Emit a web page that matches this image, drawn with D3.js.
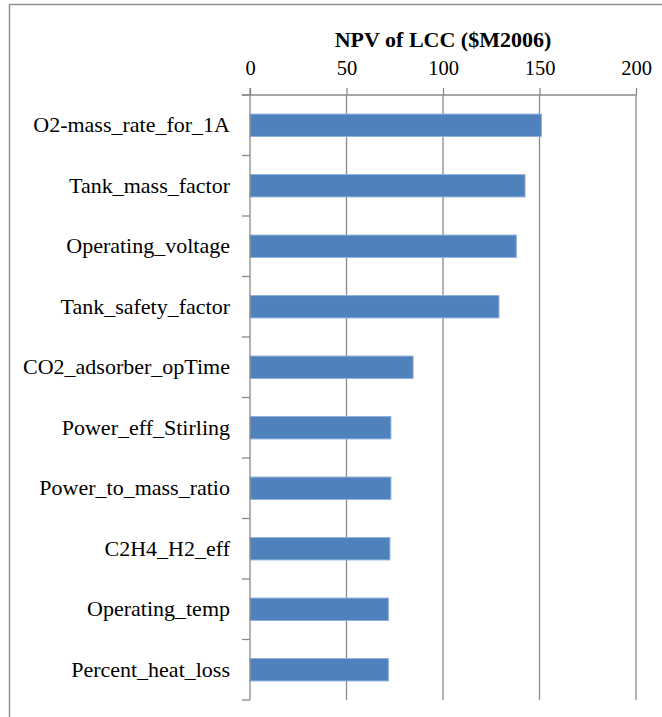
<!DOCTYPE html>
<html>
<head>
<meta charset="utf-8">
<script src="https://cdn.jsdelivr.net/npm/d3@7"></script>
<style>
  html, body { margin: 0; padding: 0; background: #fff; }
  svg { display: block; }
  text { font-family: "Liberation Serif", "Times New Roman", serif; fill: #000; }
</style>
</head>
<body>
<svg id="chart" width="662" height="717"></svg>
<script>
// Parameters ranked by their effect on the net present value of life-cycle cost
const categories = [
  "O2-mass_rate_for_1A",
  "Tank_mass_factor",
  "Operating_voltage",
  "Tank_safety_factor",
  "CO2_adsorber_opTime",
  "Power_eff_Stirling",
  "Power_to_mass_ratio",
  "C2H4_H2_eff",
  "Operating_temp",
  "Percent_heat_loss"
];
const npvValues = [151, 142.5, 138, 129, 84.5, 73, 73, 72.5, 71.7, 71.7];
const xTicks = [0, 50, 100, 150, 200];
const xTickLabels = ["0", "50", "100", "150", "200"];
const axisTitle = "NPV of LCC ($M2006)";

const svg = d3.select("#chart");

const plot = { left: 250, right: 636, top: 95, bottom: 700 };
const bandPad = 0.63;

const x = d3.scaleLinear().domain([0, 200]).range([plot.left, plot.right]);
const y = d3.scaleBand()
  .domain(categories)
  .range([plot.top, plot.bottom])
  .paddingInner(bandPad)
  .paddingOuter(bandPad / 2);

// Outer chart frame (continues past the right and bottom edges)
svg.append("rect")
  .attr("x", 9.5).attr("y", 4.5)
  .attr("width", 720).attr("height", 760)
  .attr("fill", "none")
  .attr("stroke", "#8c8c8c")
  .attr("stroke-width", 1.4);

// Vertical gridlines
svg.append("g")
  .selectAll("line")
  .data(xTicks.filter(d => d !== 0))
  .join("line")
  .attr("x1", d => x(d)).attr("x2", d => x(d))
  .attr("y1", plot.top).attr("y2", plot.bottom)
  .attr("stroke", "#8a8a8a")
  .attr("stroke-width", 1.3);

// Bars
svg.append("g")
  .selectAll("rect")
  .data(categories)
  .join("rect")
  .attr("x", x(0))
  .attr("y", d => y(d))
  .attr("width", (d, i) => x(npvValues[i]) - x(0))
  .attr("height", y.bandwidth())
  .attr("fill", "#4f81bd")
  .attr("stroke", "#8eb0da")
  .attr("stroke-width", 1);

// Top value axis
const xAxis = d3.axisTop(x)
  .tickValues(xTicks)
  .tickFormat((d, i) => xTickLabels[i])
  .tickSize(7)
  .tickPadding(13);

const gx = svg.append("g")
  .attr("transform", `translate(0,${plot.top})`)
  .call(xAxis);
gx.select(".domain").remove();
gx.selectAll(".tick line").attr("stroke", "#8a8a8a").attr("stroke-width", 1.3);
gx.selectAll(".tick text")
  .style("font-family", "'Liberation Serif', 'Times New Roman', serif")
  .style("font-size", "20.5px")
  .attr("fill", "#000");

// Category boundary ticks on the left axis
const boundaries = d3.range(categories.length + 1)
  .map(i => plot.top + i * y.step());

svg.append("g")
  .selectAll("line")
  .data(boundaries)
  .join("line")
  .attr("x1", plot.left - 8).attr("x2", plot.left)
  .attr("y1", d => d).attr("y2", d => d)
  .attr("stroke", "#8a8a8a")
  .attr("stroke-width", 1.3);

// Horizontal axis line across the top of the plot
svg.append("line")
  .attr("x1", plot.left - 8).attr("x2", plot.right)
  .attr("y1", plot.top).attr("y2", plot.top)
  .attr("stroke", "#8a8a8a")
  .attr("stroke-width", 1.3);

// Category axis
const yAxis = d3.axisLeft(y).tickSize(0).tickPadding(20);
const gy = svg.append("g")
  .attr("transform", `translate(${plot.left},0)`)
  .call(yAxis);
gy.select(".domain").remove();
gy.selectAll(".tick text")
  .style("font-family", "'Liberation Serif', 'Times New Roman', serif")
  .style("font-size", "22px")
  .attr("fill", "#000");

// Zero line / vertical axis
svg.append("line")
  .attr("x1", x(0)).attr("x2", x(0))
  .attr("y1", plot.top - 7).attr("y2", plot.bottom)
  .attr("stroke", "#8a8a8a")
  .attr("stroke-width", 1.3);

// Axis title
svg.append("text")
  .attr("x", (plot.left + plot.right) / 2)
  .attr("y", 47)
  .attr("text-anchor", "middle")
  .style("font-size", "22px")
  .style("font-weight", "bold")
  .text(axisTitle);
</script>
</body>
</html>
